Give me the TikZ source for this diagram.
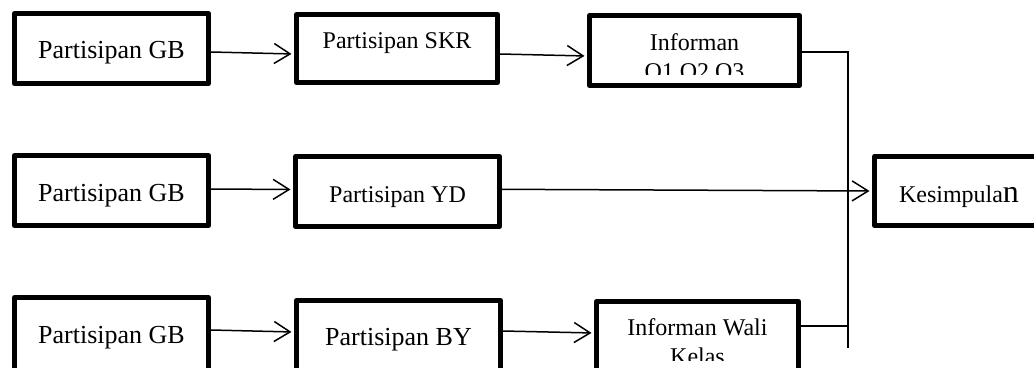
\documentclass[tikz,border=0pt]{standalone}
\usepackage{fontspec}
\setmainfont{Liberation Serif}
\usepackage{tikz}
\usetikzlibrary{positioning,arrows.meta}
\tikzset{
  box/.style={draw,rectangle,line join=round,line width=5pt,inner sep=0pt,align=center},
  gbox/.style={box,minimum width=194pt,font=\fontsize{26}{31}\selectfont},
  mbox/.style={box,font=\fontsize{24}{29}\selectfont},
  txt/.style={inner sep=0pt,anchor=base,font=\fontsize{24}{29}\selectfont},
  arr/.style={-{Straight Barb[length=16pt,width=20pt]},line width=1.5pt,shorten >=2.5pt},
  wire/.style={line width=1.5pt}}
\begin{document}
\begin{tikzpicture}[x=1pt,y=-1pt]
\useasboundingbox (0,0) rectangle (1034,367);
\clip (0,0) rectangle (1034,367);
% top row
\node[gbox,minimum height=70pt,text height=19pt,text depth=0pt] (gbA) at (111.5,48.5) {Partisipan GB};
\node[mbox,minimum width=201pt,minimum height=68pt,text height=8pt,text depth=9pt] (skr) at (397,48.5) {Partisipan SKR};
\node[box,minimum width=210pt,minimum height=70pt] (infA) at (694.5,50.5) {};
\begin{scope}
  \clip (590,16) rectangle (800,74);
  \node[txt] (infAtxt) at (694.5,50) {\begin{tabular}[t]{@{}c@{}}Informan\\O1,O2,O3\end{tabular}};
\end{scope}
% middle row
\node[gbox,minimum height=70pt,text height=22pt,text depth=0pt] (gbB) at (111.5,190.5) {Partisipan GB};
\node[mbox,minimum width=204pt,minimum height=70pt,text height=22pt,text depth=0pt] (yd) at (397.5,191.5) {Partisipan YD};
\node[mbox,minimum width=169pt,minimum height=69pt,text height=22pt,text depth=0pt] (kes) at (959,191) {Kesimpula{\fontsize{32}{32}\selectfont n}};
% bottom row
\node[gbox,minimum height=75pt,text height=16pt,text depth=0pt] (gbC) at (111.5,335) {Partisipan GB};
\node[box,font=\fontsize{26}{31}\selectfont,minimum width=204pt,minimum height=75pt,text height=14pt,text depth=0pt] (by) at (398.5,338) {Partisipan BY};
\node[box,minimum width=202pt,minimum height=76pt] (infB) at (697.5,339.5) {};
\begin{scope}
  \clip (598,303) rectangle (797,360);
  \node[txt] (infBtxt) at (697.5,335) {\begin{tabular}[t]{@{}c@{}}Informan Wali\\Kelas\end{tabular}};
\end{scope}
% connectors
\draw[arr] ([yshift=-3.5pt]gbA.east) -- ([yshift=-5.5pt]skr.west);
\draw[arr] ([yshift=-5.5pt]skr.east) -- ([yshift=-5.5pt]infA.west);
\draw[arr] ([yshift=1.5pt]gbB.east) -- ([yshift=2pt]yd.west);
\draw[arr] ([yshift=2.2pt]yd.east) -- (kes.west);
\draw[arr] ([yshift=5pt]gbC.east) -- ([yshift=6pt]by.west);
\draw[arr] ([yshift=7pt]by.east) -- ([yshift=6.5pt]infB.west);
\coordinate (busTop) at (848,52);
\coordinate (busJoin) at (848,326);
\coordinate (busEnd) at (848,348);
\draw[wire] ([yshift=-1.5pt]infA.east) -- (busTop) -- (busEnd);
\draw[wire] ([yshift=13.5pt]infB.east) -- (busJoin);
\end{tikzpicture}
\end{document}
